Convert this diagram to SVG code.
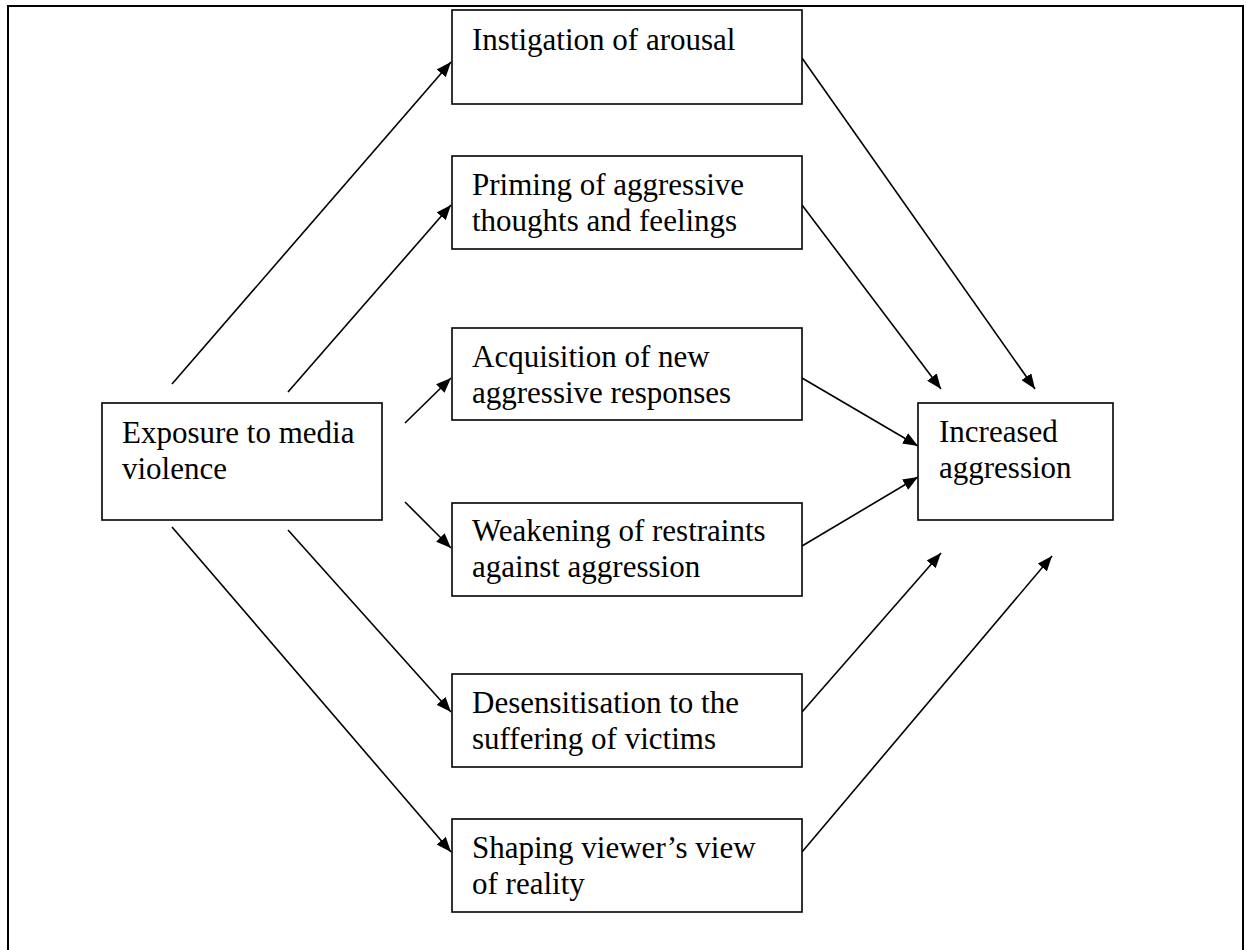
<svg xmlns="http://www.w3.org/2000/svg" width="1246" height="950" viewBox="0 0 1246 950">
<style>
.box{fill:#fff;stroke:#000;stroke-width:1.6}
.t{font-family:"Liberation Serif","Times New Roman",serif;font-size:31px;fill:#000}
.c{stroke:#000;stroke-width:1.6;fill:none;marker-end:url(#ah)}
</style>
<defs>
<marker id="ah" markerUnits="userSpaceOnUse" markerWidth="16" markerHeight="12" refX="15" refY="6" orient="auto">
<path d="M0,0 L15,6 L0,12 z" fill="#000"/>
</marker>
</defs>
<rect x="0" y="0" width="1246" height="950" fill="#fff"/>
<rect id="frame" x="8" y="6" width="1235" height="960" fill="none" stroke="#000" stroke-width="2"/>
<g id="connectors">
<line class="c" x1="172" y1="384" x2="451" y2="62"/>
<line class="c" x1="288" y1="392" x2="451" y2="205"/>
<line class="c" x1="405" y1="423" x2="451" y2="378"/>
<line class="c" x1="405" y1="502" x2="451" y2="548"/>
<line class="c" x1="288" y1="530" x2="451" y2="712"/>
<line class="c" x1="172" y1="527" x2="451" y2="852"/>
<line class="c" x1="802" y1="58" x2="1035" y2="389"/>
<line class="c" x1="802" y1="205" x2="941" y2="389"/>
<line class="c" x1="802" y1="378" x2="918" y2="446"/>
<line class="c" x1="802" y1="546" x2="918" y2="477"/>
<line class="c" x1="802" y1="712" x2="941" y2="553"/>
<line class="c" x1="802" y1="852" x2="1052" y2="556"/>
</g>
<g id="exposure">
<rect class="box" x="102" y="403" width="280" height="117"/>
<text class="t" x="122" y="443">Exposure to media</text>
<text class="t" x="122" y="479">violence</text>
</g>
<g id="instigation">
<rect class="box" x="452" y="10" width="350" height="94"/>
<text class="t" x="472" y="50">Instigation of arousal</text>
</g>
<g id="priming">
<rect class="box" x="452" y="156" width="350" height="93"/>
<text class="t" x="472" y="195">Priming of aggressive</text>
<text class="t" x="472" y="231">thoughts and feelings</text>
</g>
<g id="acquisition">
<rect class="box" x="452" y="328" width="350" height="92"/>
<text class="t" x="472" y="367">Acquisition of new</text>
<text class="t" x="472" y="403">aggressive responses</text>
</g>
<g id="weakening">
<rect class="box" x="452" y="503" width="350" height="93"/>
<text class="t" x="472" y="541">Weakening of restraints</text>
<text class="t" x="472" y="577">against aggression</text>
</g>
<g id="desensitisation">
<rect class="box" x="452" y="674" width="350" height="93"/>
<text class="t" x="472" y="713">Desensitisation to the</text>
<text class="t" x="472" y="749">suffering of victims</text>
</g>
<g id="shaping">
<rect class="box" x="452" y="819" width="350" height="93"/>
<text class="t" x="472" y="858">Shaping viewer’s view</text>
<text class="t" x="472" y="894">of reality</text>
</g>
<g id="increased">
<rect class="box" x="918" y="403" width="195" height="117"/>
<text class="t" x="939" y="442">Increased</text>
<text class="t" x="939" y="478">aggression</text>
</g>
</svg>
